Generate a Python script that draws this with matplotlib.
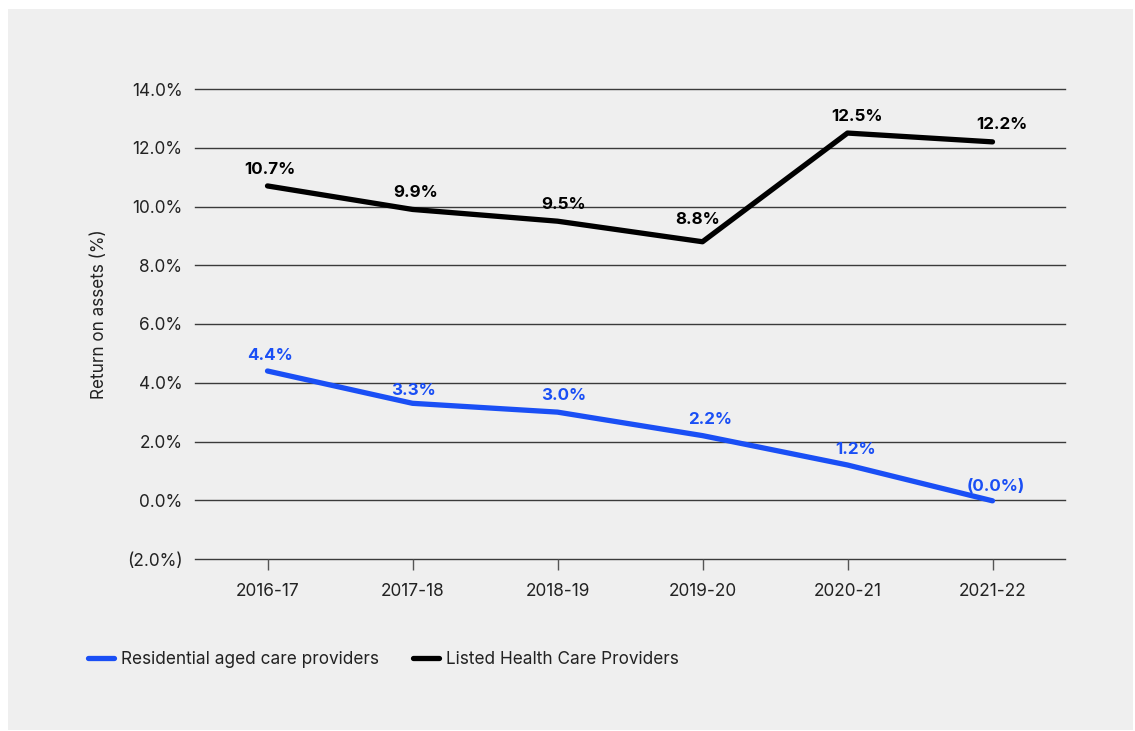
import matplotlib
matplotlib.use("Agg")
import matplotlib.pyplot as plt
from matplotlib.patches import Rectangle
from matplotlib.ticker import FuncFormatter

plt.rcParams['font.family'] = ['Inter', 'DejaVu Sans']

years = ["2016-17", "2017-18", "2018-19", "2019-20", "2020-21", "2021-22"]
residential = [4.4, 3.3, 3.0, 2.2, 1.2, -0.02]
listed = [10.7, 9.9, 9.5, 8.8, 12.5, 12.2]
residential_labels = ["4.4%", "3.3%", "3.0%", "2.2%", "1.2%", "(0.0%)"]
listed_labels = ["10.7%", "9.9%", "9.5%", "8.8%", "12.5%", "12.2%"]
y_ticks = [-2, 0, 2, 4, 6, 8, 10, 12, 14]

# label nudges (pixels, right / up) so the labels sit clear of the lines
residential_nudge = [(3, 15), (1, 13), (6, 17), (8, 16), (8, 15), (3, 14)]
listed_nudge = [(2, 16), (3, 17), (6, 17), (-5, 22), (10, 17), (9, 17)]

BLUE = "#1a4ff5"
BLACK = "#000000"
PANEL = "#efefef"
TEXT = "#222222"

W, H = 1135, 731
fig = plt.figure(figsize=(W / 100, H / 100), dpi=100, facecolor="white")
fig.patches.append(Rectangle((8 / W, 1 / H), 1125 / W, 721 / H,
                             transform=fig.transFigure, facecolor=PANEL,
                             edgecolor="none", zorder=-10))

ax = fig.add_axes([195 / W, (H - 559) / H, 870 / W, 470 / H])
ax.set_facecolor(PANEL)

x = list(range(len(years)))
ax.plot(x, residential, color=BLUE, lw=3.8, solid_capstyle="round",
        solid_joinstyle="round", label="Residential aged care providers", zorder=3)
ax.plot(x, listed, color=BLACK, lw=3.8, solid_capstyle="round",
        solid_joinstyle="round", label="Listed Health Care Providers", zorder=3)

px = 0.72  # points per pixel at 100 dpi
for xi, v, t, (dx, dy) in zip(x, residential, residential_labels, residential_nudge):
    ax.annotate(t, (xi, v), xytext=(dx * px, dy * px), textcoords="offset points",
                ha="center", va="center", color=BLUE, fontsize=12.2,
                fontweight="bold")
for xi, v, t, (dx, dy) in zip(x, listed, listed_labels, listed_nudge):
    ax.annotate(t, (xi, v), xytext=(dx * px, dy * px), textcoords="offset points",
                ha="center", va="center", color=BLACK, fontsize=12.2,
                fontweight="bold")

ax.set_xlim(-0.5, len(years) - 0.5)
ax.set_ylim(-2, 14)
ax.set_yticks(y_ticks)
ax.yaxis.set_major_formatter(FuncFormatter(
    lambda v, p: f"({abs(v):.1f}%)" if v < 0 else f"{v:.1f}%"))
ax.set_xticks(x)
ax.set_xticklabels(years)

# horizontal gridlines, drawn unclipped so the edge lines keep full weight
for yv in y_ticks:
    ax.axhline(yv, color="#3a3a3a", lw=1.0, zorder=1, clip_on=False)
for s in ax.spines.values():
    s.set_visible(False)

ax.tick_params(axis="y", length=0, pad=9, labelsize=12.4, labelcolor=TEXT)
ax.tick_params(axis="x", length=8, width=1, color="#555555", direction="out",
               pad=9, labelsize=12.4, labelcolor=TEXT)

fig.text(100 / W, 1 - 314 / H, "Return on assets (%)", rotation=90,
         ha="center", va="center", fontsize=12.3, color=TEXT)

fig.legend(loc="center left", bbox_to_anchor=(88 / W, 1 - 660 / H),
           bbox_transform=fig.transFigure, ncol=2, frameon=False,
           fontsize=12.4, borderpad=0, borderaxespad=0,
           handlelength=1.5, handletextpad=0.4,
           columnspacing=2.0, labelcolor=TEXT)

fig.savefig("out.png", dpi=100, facecolor="white")
